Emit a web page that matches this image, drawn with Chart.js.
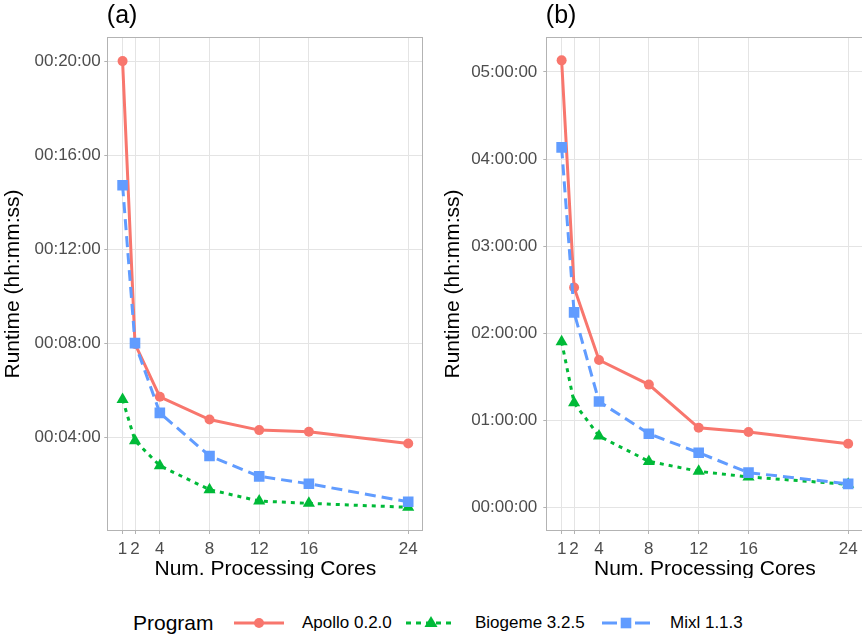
<!DOCTYPE html>
<html>
<head>
<meta charset="utf-8">
<title>Runtime vs cores</title>
<script src="https://cdn.jsdelivr.net/npm/chart.js@4/dist/chart.umd.min.js"></script>
<style>
body { margin: 0; background: #fff; font-family: "Liberation Sans", Arial, sans-serif; }
#wrap { position: relative; width: 862px; height: 636px; overflow: hidden; }
#wrap canvas { position: absolute; top: 0; }
.lg { position: absolute; white-space: nowrap; color: #000; }
</style>
</head>
<body>
<div id="wrap">
  <canvas id="chartA" width="430" height="578" style="left:0"></canvas>
  <canvas id="chartB" width="440" height="578" style="left:430px"></canvas>
</div>
<script>
// data (runtime in seconds)
var cores = [1, 2, 4, 8, 12, 16, 24];
var programs = ['Apollo 0.2.0', 'Biogeme 3.2.5', 'Mixl 1.1.3'];

var apolloA  = [1200, 478, 343, 285, 258, 254, 224];
var biogemeA = [336, 231, 167, 106, 77, 71, 61];
var mixlA    = [883, 480, 302, 192, 140, 121, 75];

var apolloB  = [18478, 9095, 6100, 5083, 3299, 3122, 2640];
var biogemeB = [6854, 4329, 2957, 1911, 1500, 1269, 964];
var mixlB    = [14882, 8065, 4383, 3052, 2270, 1446, 980];

var yTicksA = [240, 480, 720, 960, 1200];
var yTicksB = [0, 3600, 7200, 10800, 14400, 18000];

var colors = ['#F8766D', '#00BA38', '#619CFF'];
var dashes = [[], [4, 5], [11, 6]];
var keyDashes = ['', '5,5', '15,18'];
var shapes = ['circle', 'triangle', 'rect'];
var radii  = [5, 7, 7.5];

var FONT = '"Liberation Sans", Arial, sans-serif';

function two(n) { return (n < 10 ? '0' : '') + n; }
function hms(s) {
    s = Math.round(s);
    return two(Math.floor(s / 3600)) + ':' + two(Math.floor(s % 3600 / 60)) + ':' + two(s % 60);
}

// panel border + tag like "(a)"
var framePlugin = {
    id: 'frame',
    afterDatasetsDraw: function(chart, args, opts) {
        var a = chart.chartArea, ctx = chart.ctx;
        ctx.save();
        ctx.strokeStyle = '#b3b3b3';
        ctx.lineWidth = 1;
        ctx.strokeRect(Math.round(a.left) - 0.5, Math.round(a.top) - 0.5,
                       Math.round(a.right - a.left) + 1, Math.round(a.bottom - a.top) + 1);
        ctx.fillStyle = '#000';
        ctx.font = '25px ' + FONT;
        ctx.textBaseline = 'alphabetic';
        ctx.fillText(opts.tag, a.left - 1.5, 23);
        ctx.restore();
    }
};

function makePanel(id, tag, series, yMin, yMax, yTicks, plotLeft, padRight, yTitlePad, yTickPad) {
    var datasets = [];
    for (var i = 0; i < series.length; i++) {
        var pts = [];
        for (var j = 0; j < cores.length; j++) pts.push({x: cores[j], y: series[i][j]});
        datasets.push({
            label: programs[i],
            data: pts,
            borderColor: colors[i],
            backgroundColor: colors[i],
            borderWidth: 3,
            borderDash: dashes[i],
            pointStyle: shapes[i],
            pointRadius: radii[i],
            pointBorderWidth: 0,
            order: 2 - i
        });
    }
    return new Chart(document.getElementById(id), {
        type: 'line',
        data: { datasets: datasets },
        plugins: [framePlugin],
        options: {
            responsive: false,
            animation: false,
            events: [],
            layout: { padding: { top: 38, right: padRight, left: 0, bottom: 0 } },
            plugins: {
                legend: { display: false },
                tooltip: { enabled: false },
                frame: { tag: tag }
            },
            scales: {
                x: {
                    type: 'linear',
                    min: -0.15, max: 25.15,
                    afterBuildTicks: function(s) { s.ticks = cores.map(function(v) { return {value: v}; }); },
                    afterFit: function(s) { s.height = 48; },
                    grid: { color: '#e4e4e4', lineWidth: 1, tickColor: '#b3b3b3', tickLength: 4 },
                    border: { display: false },
                    ticks: { autoSkip: false, maxRotation: 0, padding: 5, color: '#4d4d4d',
                             font: { family: FONT, size: 17 } },
                    title: { display: true, text: 'Num. Processing Cores', color: '#000',
                             font: { family: FONT, size: 21, lineHeight: 1 },
                             padding: { top: 0, bottom: -2 } }
                },
                y: {
                    min: yMin, max: yMax,
                    afterBuildTicks: function(s) { s.ticks = yTicks.map(function(v) { return {value: v}; }); },
                    afterFit: function(s) { s.width = plotLeft; },
                    grid: { color: '#e4e4e4', lineWidth: 1, tickColor: '#b3b3b3', tickLength: 4 },
                    border: { display: false },
                    ticks: { padding: yTickPad, color: '#4d4d4d', font: { family: FONT, size: 17 },
                             callback: function(v) { return hms(v); } },
                    title: { display: true, text: 'Runtime (hh:mm:ss)', color: '#000',
                             font: { family: FONT, size: 21, lineHeight: 1 },
                             padding: { top: yTitlePad, bottom: 0 } }
                }
            }
        }
    });
}

makePanel('chartA', '(a)', [apolloA, biogemeA, mixlA], 3, 1259, yTicksA, 108.3, 5.6, 2.8, 3.6);
makePanel('chartB', '(b)', [apolloB, biogemeB, mixlB], -924, 19402, yTicksB, 117.3, 6.6, 12.8, 6);

// shared legend at the bottom
var wrap = document.getElementById('wrap');
function addText(txt, left, size) {
    var d = document.createElement('div');
    d.className = 'lg';
    d.textContent = txt;
    d.style.left = left + 'px';
    d.style.top = (623 - 15) + 'px';
    d.style.height = '30px';
    d.style.lineHeight = '30px';
    d.style.fontSize = size + 'px';
    wrap.appendChild(d);
}
function keySvg(i) {
    var c = colors[i], w = 50, m = 25, y = 10, mark;
    if (shapes[i] === 'circle') mark = '<circle cx="' + m + '" cy="' + y + '" r="5" fill="' + c + '"/>';
    else if (shapes[i] === 'triangle') mark = '<polygon points="' + m + ',3 ' + (m - 6.5) + ',14 ' + (m + 6.5) + ',14" fill="' + c + '"/>';
    else { m = 24; mark = '<rect x="' + (m - 5.3) + '" y="' + (y - 5.3) + '" width="10.6" height="10.6" fill="' + c + '"/>'; }
    var dash = keyDashes[i] ? ' stroke-dasharray="' + keyDashes[i] + '"' : '';
    return '<svg width="' + w + '" height="20" xmlns="http://www.w3.org/2000/svg">' +
        '<line x1="0" y1="' + y + '" x2="' + w + '" y2="' + y + '" stroke="' + c + '" stroke-width="3"' + dash + '/>' +
        mark + '</svg>';
}
addText('Program', 133, 21);
var keyLeft = [234, 406, 602];
var textLeft = [302, 475, 670];
for (var i = 0; i < programs.length; i++) {
    var k = document.createElement('div');
    k.className = 'lg';
    k.style.left = keyLeft[i] + 'px';
    k.style.top = (623 - 10) + 'px';
    k.innerHTML = keySvg(i);
    wrap.appendChild(k);
    addText(programs[i], textLeft[i], 17);
}
</script>
</body>
</html>
